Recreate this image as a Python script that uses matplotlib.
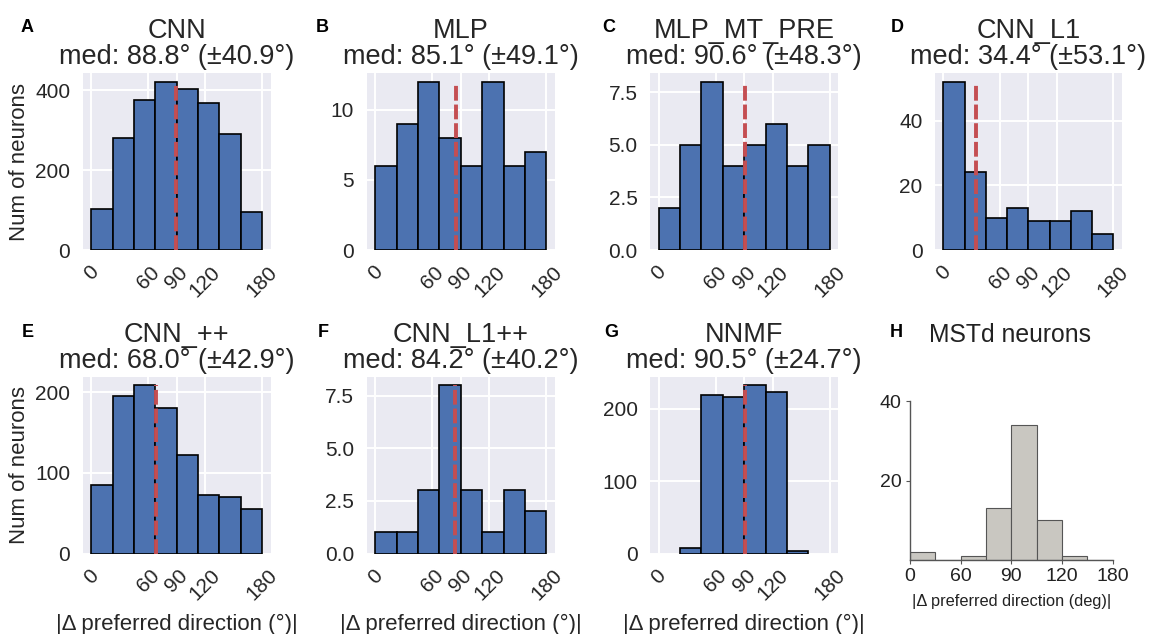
import numpy as np
import matplotlib
matplotlib.use('Agg')
import matplotlib.pyplot as plt

plt.rcParams['font.family'] = ['Liberation Sans', 'DejaVu Sans']

# ---------------- data ----------------
bin_edges = [0, 22.5, 45, 67.5, 90, 112.5, 135, 157.5, 180]
panel_letters = ['A', 'B', 'C', 'D', 'E', 'F', 'G']
model_names = ['CNN', 'MLP', 'MLP_MT_PRE', 'CNN_L1', 'CNN_++', 'CNN_L1++', 'NNMF']
medians = [88.8, 85.1, 90.6, 34.4, 68.0, 84.2, 90.5]
spreads = [40.9, 49.1, 48.3, 53.1, 42.9, 40.2, 24.7]

counts_cnn = [102, 281, 376, 421, 402, 367, 290, 94]
counts_mlp = [6, 9, 12, 8, 6, 12, 6, 7]
counts_mlp_mt_pre = [2, 5, 8, 4, 5, 6, 4, 5]
counts_cnn_l1 = [52, 24, 10, 13, 9, 9, 12, 5]
counts_cnn_pp = [85, 196, 209, 181, 122, 73, 70, 55]
counts_cnn_l1_pp = [1, 1, 3, 8, 3, 1, 3, 2]
counts_nnmf = [0, 7, 220, 217, 233, 223, 4, 0]
all_counts = [counts_cnn, counts_mlp, counts_mlp_mt_pre, counts_cnn_l1,
              counts_cnn_pp, counts_cnn_l1_pp, counts_nnmf]

y_ticks = [[0, 200, 400], [0, 5, 10], [0, 2.5, 5.0, 7.5], [0, 20, 40],
           [0, 100, 200], [0, 2.5, 5.0, 7.5], [0, 100, 200]]
x_ticks = [0, 60, 90, 120, 180]

mstd_title = 'MSTd neurons'
mstd_counts = [2, 0, 1, 13, 34, 10, 1, 0]
mstd_xtick_labels = ['0', '60', '90', '120', '180']
mstd_yticks = [20, 40]

ylabel_text = 'Num of neurons'
xlabel_text = '|Δ preferred direction (°)|'
mstd_xlabel = '|Δ preferred direction (deg)|'

# ---------------- layout ----------------
W, H = 1150, 634
fig = plt.figure(figsize=(W / 100, H / 100), dpi=100)
fig.patch.set_facecolor('white')


def add_ax(l, t, r, b):
    return fig.add_axes([l / W, 1 - b / H, (r - l) / W, (b - t) / H])


cols = [(82.7, 270.7), (366.7, 555.0), (650.0, 838.3), (935.0, 1121.7)]
rows = [(73.3, 250.0), (376.7, 553.5)]
grid_pos = [(0, 0), (1, 0), (2, 0), (3, 0), (0, 1), (1, 1), (2, 1)]
letter_pos = [(27, 28), (322, 28), (609, 28), (897, 28),
              (28, 333), (323, 333), (611, 333)]

TXT = '#262626'
edges = np.array(bin_edges)
widths = np.diff(edges)

for i in range(7):
    c, r = grid_pos[i]
    l, rr = cols[c]
    t, b = rows[r]
    ax = add_ax(l, t, rr, b)
    ax.set_facecolor('#EAEAF2')
    for s in ax.spines.values():
        s.set_visible(False)
    ax.set_axisbelow(True)
    ax.grid(True, color='white', lw=1.4)
    counts = all_counts[i]
    lws = [1.2 if v > 0 else 0.0 for v in counts]
    ax.bar(edges[:-1], counts, width=widths, align='edge',
           color='#4C72B0', edgecolor='black', linewidth=lws, zorder=2)
    ax.vlines(medians[i], 0, max(counts), colors='#C44E52', lw=2.8,
              linestyles=(0, (3.8, 1.0)), zorder=3)
    ax.set_xticks(x_ticks)
    ax.set_yticks(y_ticks[i])
    ax.tick_params(axis='both', length=0, labelsize=15, colors=TXT)
    ax.tick_params(axis='y', pad=9)
    ax.tick_params(axis='x', pad=9)
    plt.setp(ax.get_xticklabels(), rotation=45)
    ax.set_title(f"{model_names[i]}\nmed: {medians[i]:.1f}° (±{spreads[i]:.1f}°)",
                 fontsize=19.5, pad=6.5, color=TXT, linespacing=1.0)
    if c == 0:
        ax.set_ylabel(ylabel_text, fontsize=16, color=TXT)
        ax.yaxis.label.set_verticalalignment('center')
        ax.yaxis.set_label_coords((20 - l) / (rr - l), 0.5)
    if r == 1:
        ax.set_xlabel(xlabel_text, fontsize=16, color=TXT)
        ax.xaxis.label.set_verticalalignment('center')
        ax.xaxis.set_label_coords(0.5, -(624 - b) / (b - t))
    lx, ly = letter_pos[i]
    fig.text(lx / W, 1 - ly / H, panel_letters[i], fontsize=13,
             fontweight='bold', ha='center', va='center', color='black')

# ---------------- panel H ----------------
axh = add_ax(910, 401, 1112.7, 560)
axh.bar(edges[:-1], mstd_counts, width=widths, align='edge',
        color='#C9C7C1', edgecolor='#555555', linewidth=0.8)
axh.set_xlim(0, 180)
axh.set_ylim(0, 40)
for side in ['top', 'right']:
    axh.spines[side].set_visible(False)
for side in ['left', 'bottom']:
    axh.spines[side].set_color('#555555')
    axh.spines[side].set_linewidth(1.0)
axh.set_xticks(edges[::2], mstd_xtick_labels)
axh.set_yticks(mstd_yticks)
axh.tick_params(axis='both', direction='out', length=3, width=0.8,
                color='#555555', labelcolor='#222222', labelsize=14, pad=3)
axh.set_xlabel(mstd_xlabel, fontsize=11.8, color='#222222')
axh.xaxis.label.set_verticalalignment('center')
axh.xaxis.set_label_coords(0.5, -(601.7 - 560) / (560 - 401))
fig.text(1010 / W, 1 - 342 / H, mstd_title, fontsize=17.8, ha='center',
         va='baseline', color='#222222')
fig.text(896 / W, 1 - 333 / H, 'H', fontsize=13, fontweight='bold',
         ha='center', va='center', color='black')

fig.savefig('out.png', dpi=100)
